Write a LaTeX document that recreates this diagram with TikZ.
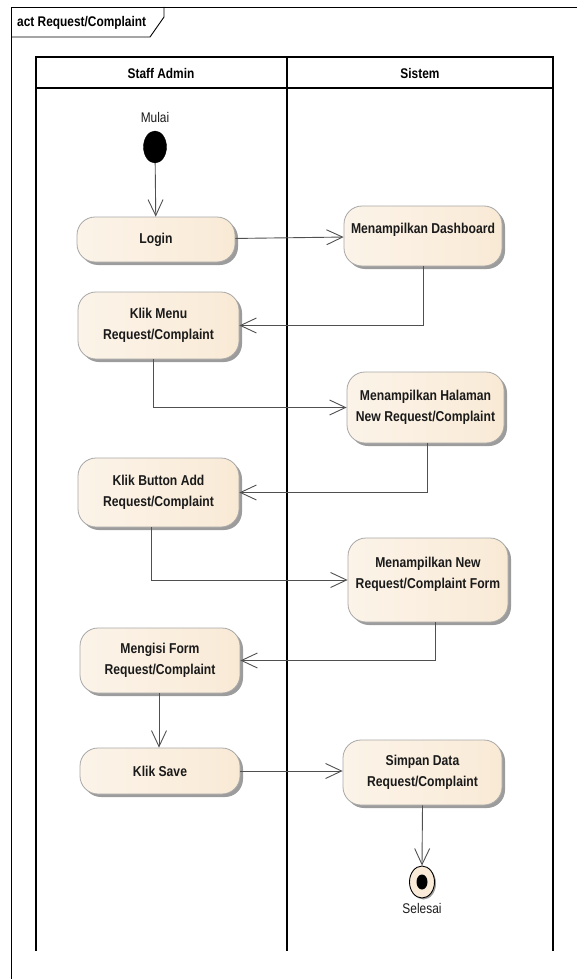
\documentclass[tikz,border=0pt]{standalone}
\usepackage{fontspec}
\setmainfont{Liberation Sans}[FakeStretch=0.85]
\usetikzlibrary{arrows.meta,shadows,calc,shapes.geometric}
\definecolor{linegray}{HTML}{505050}
\definecolor{nodeL}{HTML}{F2DAB5}
\definecolor{nodeM}{HTML}{FCF4EA}
\definecolor{nodeQ}{HTML}{F9EBD8}
\definecolor{nodeR}{HTML}{F4DEBB}
\definecolor{shadowgray}{HTML}{9C9C9C}
\definecolor{bordergray}{HTML}{A8A8A8}
\definecolor{txt}{HTML}{1A1A1A}
\pgfdeclarehorizontalshading{actshade}{100bp}{color(0bp)=(nodeL); color(22bp)=(nodeM); color(70bp)=(nodeQ); color(100bp)=(nodeR)}
\tikzset{
  act/.style={draw=bordergray, line width=0.8pt, rounded corners=18pt,
    shading=actshade,
    general shadow={fill=shadowgray, shadow xshift=3pt, shadow yshift=-3pt},
    align=center, font=\fontsize{14.3}{20.5}\selectfont\bfseries, text=txt,
    inner sep=0pt},
  flow/.style={draw=linegray, line width=0.9pt, -{Straight Barb[length=16pt,width=15pt,line width=0.9pt]}},
  lane/.style={draw=black, line width=1.3pt},
  lbl/.style={font=\fontsize{14}{16}\selectfont, text=txt, inner sep=0pt},
  hdr/.style={font=\fontsize{14}{16}\selectfont\bfseries, text=black, inner sep=0pt}
}
\begin{document}
\begin{tikzpicture}[x=1pt,y=-1pt]
\useasboundingbox (0,0) rectangle (577,979);
% frame
\draw[black, line width=0.9pt] (585,7) -- (11,7) -- (11,990);
\draw[black, line width=0.9pt] (11,37) -- (150,37) -- (164,17) -- (164,7);
\node[hdr, anchor=west] (title) at (17,23) {act Request/Complaint};
% lanes
\draw[lane] (36,951) -- (36,57) -- (553,57) -- (553,951);
\draw[lane] (287,57) -- (287,951);
\draw[lane] (36,88) -- (553,88);
\node[hdr] (laneA) at (161,73) {Staff Admin};
\node[hdr] (laneB) at (420,73) {Sistem};
% start
\node[lbl] (mulaiL) at (155,117) {Mulai};
\node[draw=black, fill=black, ellipse, minimum width=23pt, minimum height=32pt, inner sep=0pt] (start) at (155,147) {};
% activities
\node[act, minimum width=158pt, minimum height=45pt] (login) at (156,239.5) {Login};
\node[act, minimum width=158pt, minimum height=60pt] (dash) at (423,236) {Menampilkan Dashboard\\[-6pt]};
\node[act, minimum width=161pt, minimum height=67pt] (menu) at (158.5,325.5) {Klik Menu\\Request/Complaint};
\node[act, minimum width=157pt, minimum height=71pt] (hal) at (425.5,407.5) {Menampilkan Halaman\\New Request/Complaint};
\node[act, minimum width=161pt, minimum height=69pt] (add) at (158.5,492.5) {Klik Button Add\\Request/Complaint};
\node[act, minimum width=160pt, minimum height=84pt] (form) at (428,580) {Menampilkan New\\Request/Complaint Form\\[-6pt]};
\node[act, minimum width=160pt, minimum height=65pt] (isi) at (160,660.5) {Mengisi Form\\Request/Complaint};
\node[act, minimum width=160pt, minimum height=46pt] (save) at (160,771) {Klik Save};
\node[act, minimum width=159pt, minimum height=65pt] (simpan) at (422.5,772.5) {Simpan Data\\Request/Complaint};
% end
\node[draw=black, line width=0.9pt, fill=nodeQ, ellipse, minimum width=25pt, minimum height=32pt, inner sep=0pt,
  general shadow={fill=shadowgray, shadow xshift=1.5pt, shadow yshift=-1.5pt}] (end) at (422,882) {};
\node[fill=black, ellipse, minimum width=11pt, minimum height=15pt, inner sep=0pt] (endin) at (end.center) {};
\node[lbl] (selesaiL) at (422,908) {Selesai};
% flows
\draw[flow] (start) -- (login);
\draw[flow] (login) -- (dash);
\draw[flow] (dash.south) |- (menu.east);
\draw[flow] ([xshift=-5pt]menu.south) |- (hal.west);
\draw[flow] ([xshift=1.5pt]hal.south) |- (add.east);
\draw[flow] ([xshift=-7.5pt]add.south) |- (form.west);
\draw[flow] ([xshift=7pt]form.south) |- (isi.east);
\draw[flow] ([xshift=-1pt]isi.south) -- ([xshift=-1pt]save.north);
\draw[flow] (save.east) -- (save.east -| simpan.west);
\draw[flow] (simpan.south) -- (end.north);
\end{tikzpicture}
\end{document}
